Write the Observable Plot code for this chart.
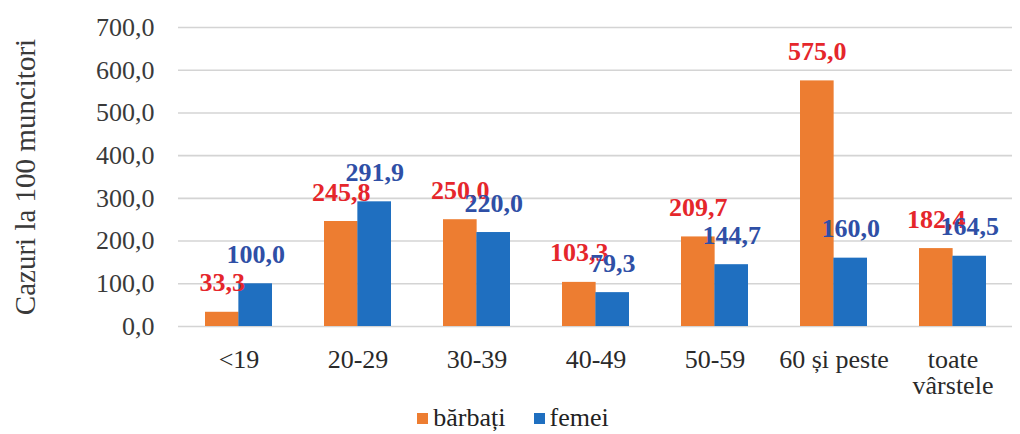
<!DOCTYPE html>
<html>
<head>
<meta charset="utf-8">
<script src="https://cdn.jsdelivr.net/npm/d3@7"></script>
<script src="https://cdn.jsdelivr.net/npm/@observablehq/plot@0.6"></script>
<style>
  body { margin: 0; background: #fff; }
  #chart { width: 1020px; }
</style>
</head>
<body>
<div id="chart"></div>
<script>
const categories = ["<19", "20-29", "30-39", "40-49", "50-59", "60 și peste", "toate vârstele"];
const barbati = [33.3, 245.8, 250.0, 103.3, 209.7, 575.0, 182.4];
const femei = [100.0, 291.9, 220.0, 79.3, 144.7, 160.0, 164.5];
const yTicks = [0, 100, 200, 300, 400, 500, 600, 700];
const seriesNames = ["bărbați", "femei"];
const barColors = ["#ED7D31", "#1F6FC0"];
const labelColors = ["#E5262B", "#2F4FA6"];

const men = categories.map((c, i) => ({cat: c, value: barbati[i]}));
const women = categories.map((c, i) => ({cat: c, value: femei[i]}));

const W = 1020, H = 402, mL = 178, mR = 8, mT = 27, mB = 76;
const padIn = 0.44, padOut = 0.22;
const step = (W - mL - mR) / (categories.length - padIn + 2 * padOut);
const bw = step * (1 - padIn);
const half = bw / 2;
const fmt = v => d3.format(".1f")(v).replace(".", ",");
const font = "Liberation Serif";

const chart = Plot.plot({
  width: W, height: H,
  marginLeft: mL, marginRight: mR, marginTop: mT, marginBottom: mB,
  style: {fontFamily: font, fontSize: "26px", background: "#fff"},
  x: {domain: categories, paddingInner: padIn, paddingOuter: padOut, label: null},
  y: {domain: [0, 700], label: null},
  marks: [
    Plot.gridY(yTicks, {stroke: "#D4D4D4", strokeOpacity: 1, strokeWidth: 1.6}),
    Plot.axisY({ticks: yTicks, tickSize: 0, tickPadding: 24, tickFormat: fmt, fill: "#3a3a3a",
      fontFamily: font, fontSize: 26}),
    Plot.text(["Cazuri la 100 muncitori"], {frameAnchor: "left", textAnchor: "middle", dx: -153, rotate: -90,
      fontFamily: font, fontSize: 29, fill: "#3a3a3a"}),
    Plot.axisX({tickSize: 0, tickPadding: 22, fill: "#2a2a2a", fontFamily: font, fontSize: 26, lineHeight: 1.03,
      tickFormat: d => d === "toate vârstele" ? "toate\nvârstele" : d}),
    Plot.barY(men, {x: "cat", y: "value", fill: barColors[0], insetRight: half}),
    Plot.barY(women, {x: "cat", y: "value", fill: barColors[1], insetLeft: half}),
    Plot.text(men, {x: "cat", y: "value", text: d => fmt(d.value), dx: -half / 2, dy: -21, lineAnchor: "bottom",
      fill: labelColors[0], fontWeight: "bold", fontFamily: font, fontSize: 26}),
    Plot.text(women, {x: "cat", y: "value", text: d => fmt(d.value), dx: half / 2, dy: -21, lineAnchor: "bottom",
      fill: labelColors[1], fontWeight: "bold", fontFamily: font, fontSize: 26})
  ]
});
document.getElementById("chart").appendChild(chart);

const legend = document.createElement("div");
legend.style.cssText = "display:flex;justify-content:center;align-items:center;height:32px;" +
  "font-family:'Liberation Serif',serif;font-size:26px;color:#222;padding-left:6px;";
seriesNames.forEach((n, i) => {
  const it = document.createElement("div");
  it.style.cssText = "display:flex;align-items:center;margin:0 14px;font-family:'Liberation Serif',serif;";
  const sw = document.createElement("span");
  sw.style.cssText = "display:inline-block;width:11px;height:11px;margin-right:5px;background:" + barColors[i];
  it.appendChild(sw);
  it.appendChild(document.createTextNode(n));
  legend.appendChild(it);
});
document.getElementById("chart").appendChild(legend);
</script>
</body>
</html>
